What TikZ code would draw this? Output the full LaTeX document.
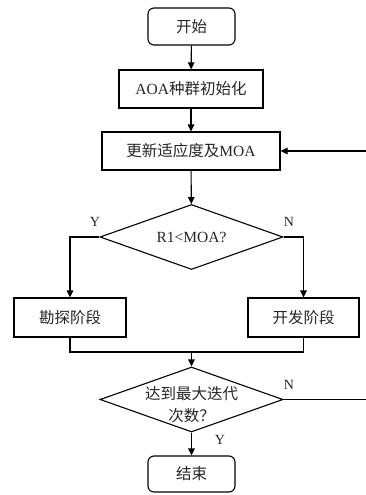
\documentclass[tikz,border=0pt]{standalone}
\usepackage{fontspec}
\setmainfont{Liberation Serif}
\newfontfamily\zhfont{Noto Sans CJK SC}
\newcommand{\zh}[1]{{\zhfont #1}}
\usetikzlibrary{shapes.geometric,arrows.meta}
\begin{document}
\begin{tikzpicture}[x=1pt,y=-1pt,
  every node/.style={font=\fontsize{15.5}{22}\selectfont, text=black!85},
  box/.style={draw=black,line width=1.1pt,minimum height=38pt,inner sep=0},
  term/.style={box,rounded corners=6pt,minimum width=87pt,minimum height=37pt},
  dec/.style={draw=black,diamond,line width=1.1pt,minimum width=183pt,minimum height=65pt,inner sep=0,aspect=2.8},
  ln/.style={line width=1.1pt},
  arr/.style={ln,-{Triangle[length=7pt,width=6.5pt]}},
  lab/.style={font=\fontsize{14}{16}\selectfont,inner sep=0}]
\useasboundingbox (0,0) rectangle (366,495);
\node[term] (start) at (191.5,26.5) {\zh{开始}};
\node[box,minimum width=144pt] (init) at (191,89) {AOA\zh{种群初始化}};
\node[box,minimum width=178pt] (upd) at (191,151) {\zh{更新适应度及}MOA};
\node[dec] (d1) at (191.5,237) {};
\node (d1t) at (d1.center) {R1<MOA?};
\node[box,minimum width=112pt,minimum height=39pt] (explore) at (70,317.5) {\zh{勘探阶段}};
\node[box,minimum width=111pt,minimum height=39pt] (exploit) at (303.5,317.5) {\zh{开发阶段}};
\node[dec] (d2) at (191.5,399.5) {};
\node[align=center] (d2t) at (191.5,405) {\zh{达到最大迭代}\\\zh{次数？}};
\node[term,minimum height=36pt] (end) at (191.5,474) {\zh{结束}};
% labels
\node[lab] (y1) at (95,222) {Y};
\node[lab] (n1) at (289,222) {N};
\node[lab] (n2) at (289,385) {N};
\node[lab] (y2) at (220,440) {Y};
% connectors
\draw[arr] (start) -- (init);
\draw[arr] (init) -- (upd);
\draw[arr] (upd) -- (d1);
\draw[arr] (d1.west) -| (explore.north);
\draw[arr] (d1.east) -| (exploit.north);
\coordinate (j) at (191.5,352);
\draw[ln] (explore.south) |- (j) -| (exploit.south);
\draw[arr] (j) -- (d2.north);
\draw[arr] (d2) -- (end);
\coordinate (r2) at (366,399.5);
\coordinate (r1) at (366,151);
\draw[ln] (d2.east) -- (r2);
\draw[arr] (r1) -- (upd.east);
\end{tikzpicture}
\end{document}
